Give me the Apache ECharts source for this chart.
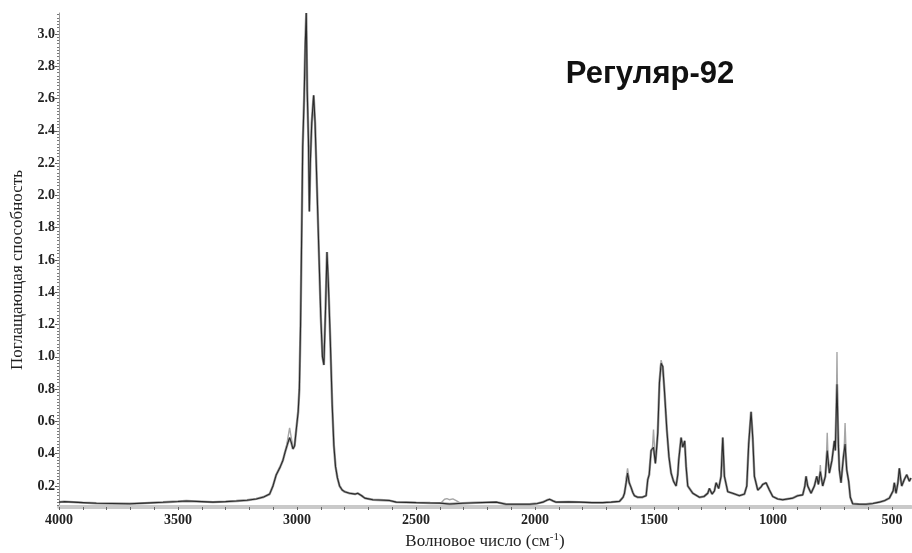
<!DOCTYPE html>
<html>
<head>
<meta charset="utf-8">
<title>Регуляр-92</title>
<script src="https://cdn.jsdelivr.net/npm/echarts@6/dist/echarts.min.js"></script>
<style>
  html, body { margin: 0; padding: 0; background: #fff; }
  #chart { width: 912px; height: 553px; }
</style>
</head>
<body>
<div id="chart"></div>
<script>
// IR spectrum: wavenumber (cm-1) and absorbance of the main trace
const wavenumbers = [
  4000, 3980, 3940, 3900, 3843, 3780, 3703, 3640, 3563, 3500, 3465, 3400, 3353, 3300, 3255, 3210,
  3171, 3140, 3115, 3101, 3087, 3070, 3059, 3050, 3040, 3031, 3024, 3017, 3010, 3003, 2995, 2990,
  2985, 2980, 2976, 2970, 2965, 2961, 2957, 2952, 2948, 2944, 2938, 2930, 2924, 2916, 2908, 2900,
  2893, 2887, 2880, 2874, 2868, 2860, 2852, 2845, 2838, 2830, 2821, 2810, 2800, 2779, 2755, 2745,
  2737, 2728, 2715, 2681, 2611, 2583, 2499, 2440, 2400, 2359, 2303, 2250, 2163, 2121, 2023, 1990,
  1967, 1950, 1939, 1925, 1911, 1860, 1813, 1760, 1715, 1680, 1645, 1630, 1624, 1617, 1611, 1604,
  1596, 1589, 1582, 1568, 1550, 1533, 1526, 1520, 1512, 1502, 1494, 1488, 1484, 1477, 1470, 1463,
  1456, 1446, 1437, 1428, 1418, 1407, 1400, 1396, 1386, 1379, 1371, 1365, 1358, 1337, 1309, 1290,
  1274, 1267, 1256, 1246, 1239, 1228, 1218, 1211, 1204, 1190, 1169, 1141, 1120, 1110, 1102, 1092,
  1085, 1078, 1064, 1050, 1043, 1029, 1015, 1001, 980, 959, 917, 896, 875, 866, 861, 854,
  840, 826, 816, 809, 801, 791, 780, 772, 763, 752, 742, 738, 731, 725, 721, 714,
  704, 697, 690, 682, 675, 665, 640, 609, 580, 553, 530, 511, 495, 490, 483, 475,
  469, 463, 459, 448, 438, 427, 420
];
const absorbance = [
  0.100, 0.103, 0.100, 0.097, 0.093, 0.092, 0.090, 0.094, 0.099, 0.104, 0.107, 0.103, 0.100, 0.103, 0.107, 0.112,
  0.120, 0.132, 0.150, 0.200, 0.270, 0.320, 0.360, 0.410, 0.460, 0.500, 0.470, 0.430, 0.450, 0.550, 0.660, 0.800,
  1.200, 1.800, 2.300, 2.600, 2.950, 3.130, 2.650, 2.350, 1.900, 2.200, 2.450, 2.620, 2.450, 2.050, 1.650, 1.250,
  1.000, 0.950, 1.300, 1.650, 1.450, 1.100, 0.700, 0.450, 0.320, 0.250, 0.200, 0.175, 0.165, 0.155, 0.150, 0.155,
  0.165, 0.140, 0.125, 0.115, 0.110, 0.100, 0.097, 0.095, 0.094, 0.089, 0.093, 0.096, 0.100, 0.087, 0.087, 0.092,
  0.100, 0.112, 0.118, 0.108, 0.100, 0.102, 0.100, 0.097, 0.097, 0.100, 0.105, 0.130, 0.155, 0.220, 0.280, 0.220,
  0.190, 0.160, 0.140, 0.130, 0.130, 0.140, 0.240, 0.270, 0.420, 0.440, 0.340, 0.450, 0.530, 0.840, 0.960, 0.940,
  0.790, 0.550, 0.380, 0.280, 0.230, 0.200, 0.270, 0.360, 0.500, 0.440, 0.480, 0.320, 0.200, 0.155, 0.130, 0.135,
  0.155, 0.185, 0.150, 0.170, 0.220, 0.185, 0.260, 0.500, 0.260, 0.165, 0.155, 0.140, 0.150, 0.200, 0.460, 0.660,
  0.500, 0.260, 0.175, 0.195, 0.210, 0.220, 0.175, 0.135, 0.120, 0.115, 0.125, 0.140, 0.145, 0.200, 0.260, 0.200,
  0.155, 0.200, 0.260, 0.210, 0.290, 0.200, 0.260, 0.420, 0.280, 0.360, 0.480, 0.420, 0.830, 0.450, 0.300, 0.220,
  0.380, 0.460, 0.300, 0.230, 0.130, 0.090, 0.088, 0.087, 0.092, 0.100, 0.110, 0.125, 0.170, 0.220, 0.155, 0.220,
  0.310, 0.240, 0.200, 0.240, 0.270, 0.230, 0.250
];

// Parallel measurement: segments where it runs above the main trace (null = no separate segment)
const altWavenumbers = [
  3045, 3038, 3031, 3024, 3017, null,
  2395, 2380, 2370, 2360, 2345, 2331, 2315, null,
  1618, 1611, 1604, null,
  1507, 1502, 1497, null,
  1474, 1470, 1465, null,
  805, 801, 797, null,
  776, 772, 768, null,
  735, 731, 727, null,
  701, 697, 693
];
const altAbsorbance = [
  0.440, 0.500, 0.560, 0.500, 0.440, null,
  0.095, 0.118, 0.122, 0.115, 0.120, 0.110, 0.095, null,
  0.240, 0.310, 0.240, null,
  0.420, 0.550, 0.420, null,
  0.920, 0.980, 0.950, null,
  0.240, 0.330, 0.240, null,
  0.350, 0.530, 0.350, null,
  0.500, 1.030, 0.500, null,
  0.420, 0.590, 0.420
];

// Axis tick labels
const xTickLabels = [4000, 3500, 3000, 2500, 2000, 1500, 1000, 500];
const yTickLabels = [0.2, 0.4, 0.6, 0.8, 1.0, 1.2, 1.4, 1.6, 1.8, 2.0, 2.2, 2.4, 2.6, 2.8, 3.0];

const X_MIN = 420, X_MAX = 4000, Y_MIN = 0.07, Y_MAX = 3.13;

// Minor tick positions (every 100 cm-1 on x, every 0.02 on y)
const xMinorTicks = [];
for (let v = 500; v <= 4000; v += 100) xMinorTicks.push(v);
const yMinorTicks = [];
for (let i = 4; i <= 156; i++) yMinorTicks.push(+(i * 0.02).toFixed(2));

const mainPairs = wavenumbers.map((w, i) => [w, absorbance[i]]);
const altPairs = altWavenumbers.map((w, i) => (w === null ? [null, null] : [w, altAbsorbance[i]]));

const serif = '"Liberation Serif", "Times New Roman", serif';

const chart = echarts.init(document.getElementById('chart'), null, { renderer: 'canvas' });
chart.setOption({
  animation: false,
  backgroundColor: '#ffffff',
  grid: { left: 59, right: 1, top: 13, bottom: 46, containLabel: false, outerBoundsMode: 'none' },
  xAxis: {
    type: 'value',
    inverse: true,
    min: X_MIN,
    max: X_MAX,
    name: 'Волновое число (см{sup|-1})',
    nameLocation: 'middle',
    nameGap: 25,
    nameTextStyle: {
      fontFamily: serif, fontSize: 17, color: '#222',
      rich: { sup: { fontFamily: serif, fontSize: 11, color: '#222', verticalAlign: 'top', padding: [0, 0, 9, 0] } }
    },
    axisLine: { show: true, lineStyle: { color: '#c9c9c9', width: 4 } },
    axisTick: { show: true, customValues: xMinorTicks, length: 3, inside: false, lineStyle: { color: '#666', width: 1 } },
    axisLabel: {
      customValues: xTickLabels,
      margin: 6,
      fontFamily: serif, fontSize: 14, fontWeight: 'bold', color: '#222',
      formatter: v => String(v)
    },
    splitLine: { show: false }
  },
  yAxis: [
    {
      type: 'value',
      min: Y_MIN,
      max: Y_MAX,
      name: 'Поглащающая способность',
      nameLocation: 'middle',
      nameGap: 33,
      nameTextStyle: { fontFamily: serif, fontSize: 17, color: '#222', padding: [0, 0, 0, -20] },
      axisLine: { show: true, lineStyle: { color: '#9a9a9a', width: 1 } },
      axisTick: { show: true, customValues: yTickLabels, length: 4, lineStyle: { color: '#555', width: 1 } },
      axisLabel: {
        customValues: yTickLabels,
        margin: 4,
        fontFamily: serif, fontSize: 14, fontWeight: 'bold', color: '#222',
        formatter: v => v.toFixed(1)
      },
      splitLine: { show: false }
    },
    {
      type: 'value',
      min: Y_MIN,
      max: Y_MAX,
      position: 'left',
      axisLine: { show: false },
      axisTick: { show: true, customValues: yMinorTicks, length: 2, inside: false, lineStyle: { color: '#777', width: 1 } },
      axisLabel: { show: false },
      splitLine: { show: false }
    }
  ],
  graphic: [
    {
      type: 'text',
      x: 650,
      y: 74,
      silent: true,
      style: {
        text: 'Регуляр-92',
        font: 'bold 31px "Liberation Sans", Arial, sans-serif',
        fill: '#111',
        textAlign: 'center',
        textVerticalAlign: 'middle'
      }
    }
  ],
  series: [
    {
      name: 'halo',
      type: 'line',
      data: mainPairs,
      showSymbol: false,
      silent: true,
      lineStyle: { color: '#999999', width: 2.4 },
      z: 1
    },
    {
      name: 'parallel',
      type: 'line',
      data: altPairs,
      connectNulls: false,
      showSymbol: false,
      silent: true,
      lineStyle: { color: '#a6a6a6', width: 1.4 },
      z: 2
    },
    {
      name: 'main',
      type: 'line',
      data: mainPairs,
      showSymbol: false,
      silent: true,
      lineStyle: { color: '#2a2a2a', width: 1.1 },
      z: 3
    }
  ]
});
</script>
</body>
</html>
